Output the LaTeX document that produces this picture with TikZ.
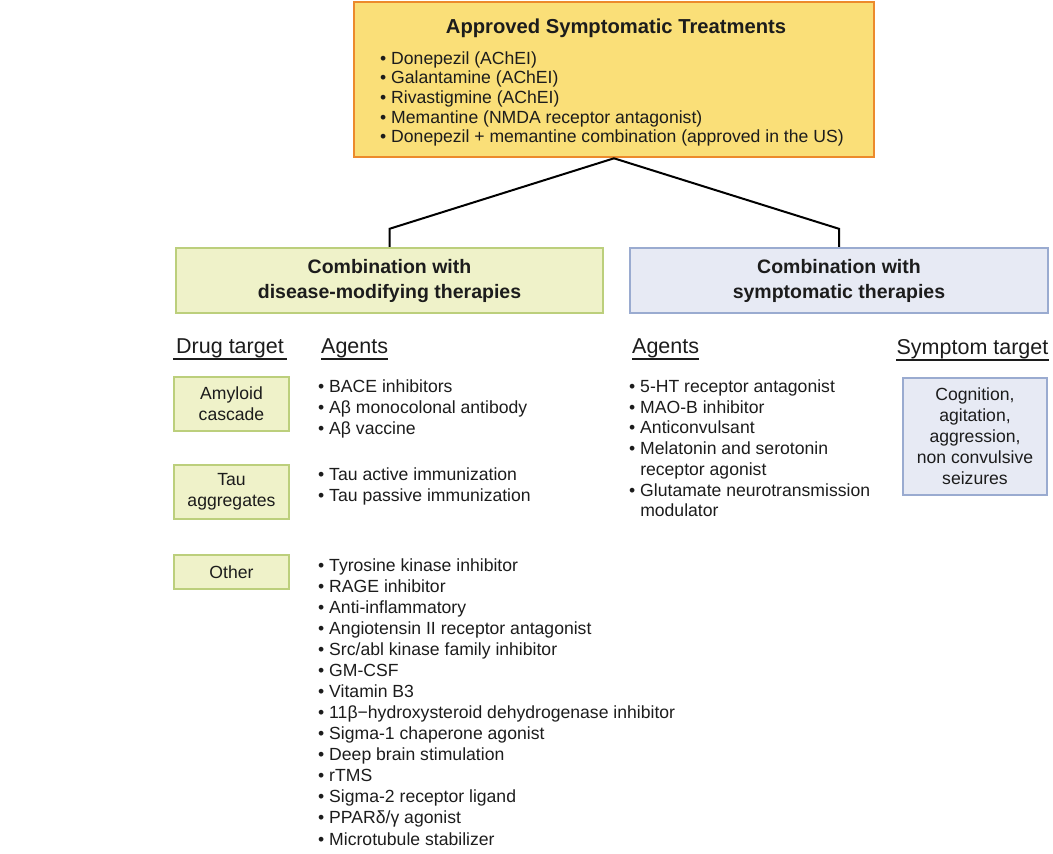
\documentclass[tikz,border=0pt]{standalone}
\usepackage{fontspec}
\setmainfont{Liberation Sans}
\usetikzlibrary{positioning}

\definecolor{apprfill}{HTML}{FADF78}
\definecolor{apprline}{HTML}{EC8A2C}
\definecolor{dmtfill}{HTML}{EFF2C9}
\definecolor{dmtline}{HTML}{BCCF7C}
\definecolor{symfill}{HTML}{E7EAF4}
\definecolor{symline}{HTML}{9AABD0}
\definecolor{txt}{HTML}{1C1C1C}

\newcommand{\itemfont}{\fontsize{17.6}{21}\selectfont}
\newcommand{\headfont}{\fontsize{21.5}{25}\selectfont}
\newcommand{\boxfont}{\fontsize{19.5}{25}\selectfont\bfseries}

\tikzset{
  box/.style={draw, align=center, inner sep=0pt, text=txt},
  apprbox/.style={box, fill=apprfill, draw=apprline, line width=2.6pt},
  dmtbox/.style={box, fill=dmtfill, draw=dmtline, line width=2.4pt, font=\boxfont},
  symbox/.style={box, fill=symfill, draw=symline, line width=2.4pt, font=\boxfont},
  tgtbox/.style={box, fill=dmtfill, draw=dmtline, line width=2.2pt, font=\itemfont,
    minimum width=115, minimum height=54},
  cogbox/.style={box, fill=symfill, draw=symline, line width=2.2pt, font=\itemfont,
    minimum width=144, minimum height=117},
  item/.style={anchor=base west, inner sep=0pt, font=\itemfont, text=txt},
  head/.style={anchor=base, inner ysep=0pt, inner xsep=3pt, font=\headfont, text=txt},
  uline/.style={line width=1.8pt, draw=txt},
  conn/.style={line width=2pt, black}
}

\begin{document}
\begin{tikzpicture}[x=1pt, y=-1pt]
\useasboundingbox (0,0) rectangle (1053,854);

\node[apprbox, minimum width=520, minimum height=155] (appr) at (614,79.5) {};
\node[anchor=base, font=\fontsize{20.2}{24}\selectfont\bfseries, text=txt] (apprtitle) at (616,33)
  {Approved Symptomatic Treatments};
\foreach \t [count=\i from 0] in {Donepezil (AChEI), Galantamine (AChEI), Rivastigmine (AChEI),
    Memantine (NMDA receptor antagonist), Donepezil + memantine combination (approved in the US)}
  \node[item] (appr-\i) at (380,{64+19.7*\i}) {• \t};

\node[dmtbox, minimum width=427, minimum height=65] (dmt) at (389.5,280.5)
  {Combination with\\disease-modifying therapies};
\node[symbox, minimum width=418, minimum height=65] (sym) at (839,280.5)
  {Combination with\\symptomatic therapies};

\draw[conn] (appr.south) -- ([yshift=18pt]dmt.north) -- (dmt.north);
\draw[conn] (appr.south) -- ([yshift=18pt]sym.north) -- (sym.north);

\node[head] (drugtgt) at (230,353) {Drug target};
\node[head, anchor=base west, inner xsep=0pt] (agl) at (321,353) {Agents};
\node[head, anchor=base west, inner xsep=0pt] (agr) at (632,353) {Agents};
\node[head, inner xsep=0pt] (symtgt) at (972.5,354) {Symptom target};
\foreach \h in {drugtgt, agl, agr, symtgt}
  \draw[uline] ([yshift=-6pt]\h.base west) -- ([yshift=-6pt]\h.base east);

\node[tgtbox] (amy) at (231.5,404) {Amyloid\\cascade};
\node[tgtbox] (tau) at (231.5,492) {Tau\\aggregates};
\node[tgtbox, minimum height=34] (oth) at (231.5,572) {Other};
\node[cogbox] (cog) at (975,436.5) {Cognition,\\agitation,\\aggression,\\non convulsive\\seizures};

\foreach \t [count=\i from 0] in {BACE inhibitors, Aβ monocolonal antibody, Aβ vaccine}
  \node[item] (amy-\i) at (318,{392+21*\i}) {• \t};
\foreach \t [count=\i from 0] in {Tau active immunization, Tau passive immunization}
  \node[item] (tau-\i) at (318,{480+21*\i}) {• \t};
\foreach \t [count=\i from 0] in {Tyrosine kinase inhibitor, RAGE inhibitor, Anti-inflammatory,
    Angiotensin II receptor antagonist, Src/abl kinase family inhibitor, GM-CSF, Vitamin B3,
    11β−hydroxysteroid dehydrogenase inhibitor, Sigma-1 chaperone agonist,
    Deep brain stimulation, rTMS, Sigma-2 receptor ligand, PPARδ/γ agonist,
    Microtubule stabilizer}
  \node[item] (oth-\i) at (318,{571+21.08*\i}) {• \t};
\foreach \t [count=\i from 0] in {• 5-HT receptor antagonist, • MAO-B inhibitor, • Anticonvulsant,
    • Melatonin and serotonin, \phantom{• }receptor agonist,
    • Glutamate neurotransmission, \phantom{• }modulator}
  \node[item] (sa-\i) at (629,{392.5+20.7*\i}) {\t};
\end{tikzpicture}
\end{document}
